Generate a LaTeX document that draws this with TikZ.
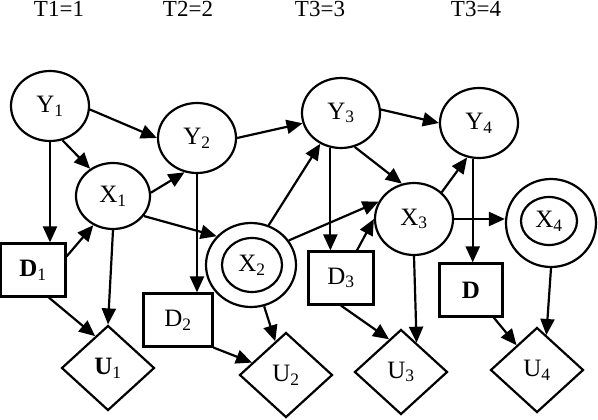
\documentclass[tikz,border=0pt]{standalone}
\usepackage{fontspec}
\setmainfont{Liberation Serif}
\usetikzlibrary{shapes.geometric,arrows.meta}
\begin{document}
\begin{tikzpicture}[x=1pt,y=-1pt]
      \tikzstyle{STY1} = [draw, ellipse, line width=2.2pt, minimum width=78pt, minimum height=70pt, inner sep=0pt, font=\fontsize{25}{27}\selectfont]
      \tikzstyle{STY2} = [-{Triangle[length=16pt,width=14pt]}, line width=2.2pt]
      \tikzstyle{STY3} = [draw, rectangle, line width=2.2pt, minimum width=65pt, minimum height=53pt, inner sep=0pt, font=\fontsize{25}{27}\selectfont]
      \tikzstyle{STY4} = [draw, diamond, line width=2.2pt, minimum width=93pt, minimum height=85pt, inner sep=0pt, font=\fontsize{25}{27}\selectfont]
      \tikzstyle{STY5} = [font=\fontsize{23}{25}\selectfont, anchor=base, inner sep=0pt]

      \useasboundingbox (0,0) rectangle (598,420);

      %%%%% TIME STEPS
      \node[STY5](t1) at (59, 17) {T1=1};
      \node[STY5](t2) at (188, 17) {T2=2};
      \node[STY5](t3) at (320, 17) {T3=3};
      \node[STY5](t4) at (476, 17) {T3=4};

      %%%%% VERTEX
      \node[STY1](Y1) at (50, 106) {Y\textsubscript{1}};
      \node[STY1](Y2) at (197, 138) {Y\textsubscript{2}};
      \node[STY1](Y3) at (341, 113) {Y\textsubscript{3}};
      \node[STY1](Y4) at (479, 123) {Y\textsubscript{4}};

      \node[STY1, minimum width=74pt, minimum height=66pt](X1) at (113, 196) {X\textsubscript{1}};
      \node[STY1, minimum width=90pt, minimum height=84pt](X2) at (251, 265) {};
      \node[STY1, minimum width=60pt, minimum height=54pt](X2in) at (252, 265) {X\textsubscript{2}};
      \node[STY1, minimum width=78pt, minimum height=72pt](X3) at (414, 219) {X\textsubscript{3}};
      \node[STY1, minimum width=90pt, minimum height=88pt](X4) at (551, 223) {};
      \node[STY1, minimum width=56pt, minimum height=48pt](X4in) at (549, 221) {X\textsubscript{4}};

      \node[STY3](D1) at (33, 270) {\textbf{D}\textsubscript{1}};
      \node[STY3, minimum width=69pt](D2) at (178, 320) {D\textsubscript{2}};
      \node[STY3](D3) at (341, 278) {D\textsubscript{3}};
      \node[STY3, minimum width=63pt](D4) at (471, 290) {\textbf{D}};

      \node[STY4](U1) at (108, 368) {\textbf{U}\textsubscript{1}};
      \node[STY4](U2) at (286, 375) {U\textsubscript{2}};
      \node[STY4](U3) at (401, 372) {U\textsubscript{3}};
      \node[STY4](U4) at (537, 370) {U\textsubscript{4}};

      %%%%% EDGES
      \draw[STY2]  (Y1.-5) -- (Y2.west);
      \draw[STY2]  (Y2.east) -- (Y3.195);
      \draw[STY2]  (Y3.5) -- (Y4.west);

      \draw[STY2]  (Y1.-70) -- (X1.130);
      \draw[STY2]  (Y1.south) -- (Y1.south |- D1.north);
      \draw[STY2]  (D1.22) -- (X1.-124);
      \draw[STY2]  (D1.-60) -- (U1.112);
      \draw[STY2]  (X1.south) -- (U1.north);
      \draw[STY2]  (X1.5) -- (Y2.-110);
      \draw[STY2]  (X1.-33) -- (X2.140);

      \draw[STY2]  (Y2.south) -- (Y2.south |- D2.north);
      \draw[STY2]  (D2.south east) -- (U2.160);
      \draw[STY2]  (X2) -- (U2);
      \draw[STY2]  (X2.66) -- (Y3.-124);
      \draw[STY2]  (X2.33) -- (X3.154);

      \draw[STY2]  (Y3.-68) -- (X3.109);
      \draw[STY2]  (Y3.253) -- (Y3.253 |- D3.north);
      \draw[STY2]  (D3.60) -- (X3.west);
      \draw[STY2]  (D3.south) -- (U3.110);
      \draw[STY2]  (X3.south) -- (U3.62);
      \draw[STY2]  (X3.44) -- (Y4.-109);
      \draw[STY2]  (X3.east) -- (X3.east -| X4.west);

      \draw[STY2]  (Y4.260) -- (Y4.260 |- D4.north);
      \draw[STY2]  (D4) -- (U4);
      \draw[STY2]  (X4.south) -- (U4.75);
\end{tikzpicture}
\end{document}
